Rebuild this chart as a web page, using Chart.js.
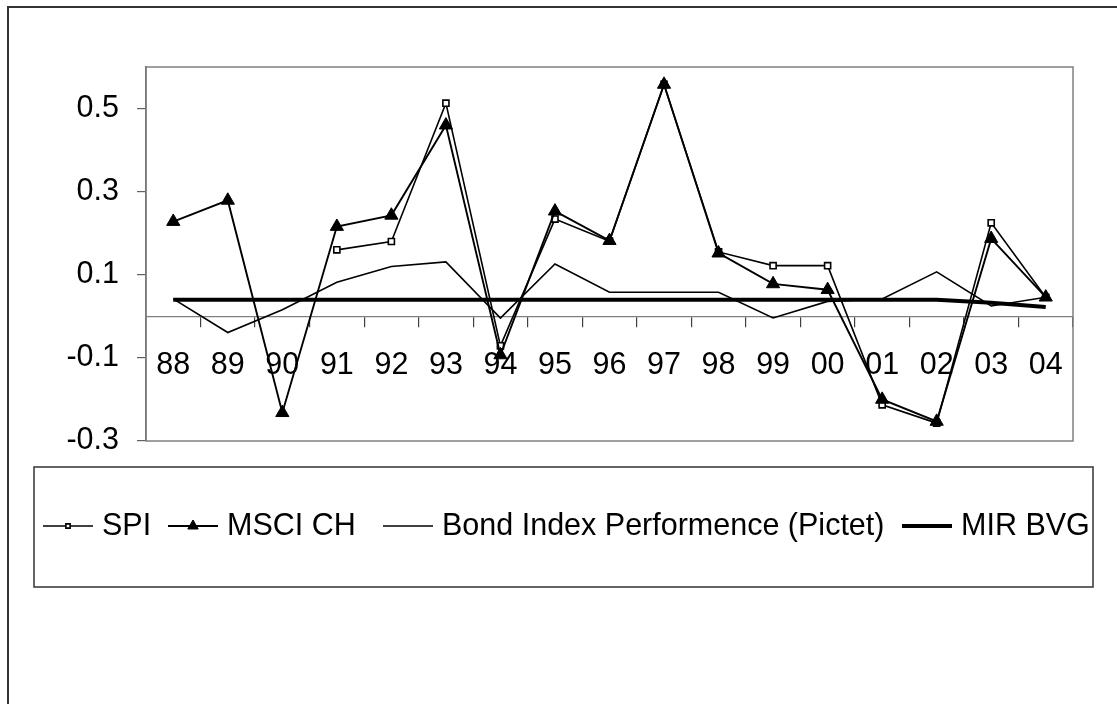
<!DOCTYPE html>
<html>
<head>
<meta charset="utf-8">
<script src="https://cdn.jsdelivr.net/npm/chart.js@4.4.1/dist/chart.umd.min.js"></script>
<style>
  html, body { margin: 0; padding: 0; background: #ffffff; }
  #wrap { width: 1117px; height: 704px; position: relative; }
</style>
</head>
<body>
<div id="wrap"><canvas id="chart" width="1117" height="704"></canvas></div>
<script>
// Years (two-digit labels)
const years = ['88', '89', '90', '91', '92', '93', '94', '95', '96', '97', '98', '99', '00', '01', '02', '03', '04'];

// Annual returns
const spi = [null, null, null, 0.160, 0.180, 0.513, -0.071, 0.234, 0.181, 0.558, 0.155, 0.122, 0.122, -0.213, -0.257, 0.225, 0.046];
const msciCh = [0.228, 0.279, -0.232, 0.216, 0.243, 0.460, -0.093, 0.253, 0.182, 0.558, 0.152, 0.078, 0.064, -0.200, -0.253, 0.187, 0.046];
const bondIndex = [0.042, -0.039, 0.016, 0.082, 0.120, 0.131, -0.004, 0.126, 0.058, 0.058, 0.058, -0.004, 0.036, 0.042, 0.107, 0.025, 0.046];
// BVG minimum interest rate
const mirBvg = [0.04, 0.04, 0.04, 0.04, 0.04, 0.04, 0.04, 0.04, 0.04, 0.04, 0.04, 0.04, 0.04, 0.04, 0.04, 0.0325, 0.0225];

// Value axis
const yMin = -0.3;
const yMax = 0.6;
const yTicks = [-0.3, -0.1, 0.1, 0.3, 0.5];

const FONT = "'Liberation Sans', Arial, sans-serif";

// Frame, plot border and legend box
const framePlugin = {
  id: 'frame',
  beforeDraw(chart) {
    const ctx = chart.ctx;
    ctx.save();
    ctx.fillStyle = '#ffffff';
    ctx.fillRect(0, 0, chart.width, chart.height);
    // outer chart frame
    ctx.strokeStyle = '#333333';
    ctx.lineWidth = 2;
    ctx.strokeRect(8, 7, chart.width + 20, chart.height + 20);
    ctx.restore();
  },
  beforeDatasetsDraw(chart) {
    const { ctx, chartArea: a } = chart;
    ctx.save();
    ctx.strokeStyle = '#808080';
    ctx.lineWidth = 1.5;
    ctx.strokeRect(a.left, a.top, a.right - a.left, a.bottom - a.top);
    ctx.restore();
  }
};

// Legend: line sample with marker, then the series name
const legendPlugin = {
  id: 'lineLegend',
  afterDraw(chart) {
    const ctx = chart.ctx;
    const box = { left: 34, top: 467, right: 1093, bottom: 587 };
    const itemX = [43, 168, 383, 902];
    const sampleLen = 50;
    const textGap = 9;
    const cy = 526;
    ctx.save();
    ctx.strokeStyle = '#333333';
    ctx.lineWidth = 1.5;
    ctx.strokeRect(box.left, box.top, box.right - box.left, box.bottom - box.top);
    chart.data.datasets.forEach((ds, i) => {
      const x0 = itemX[i];
      ctx.strokeStyle = ds.borderColor;
      ctx.lineWidth = ds.borderWidth;
      ctx.beginPath();
      ctx.moveTo(x0, cy);
      ctx.lineTo(x0 + sampleLen, cy);
      ctx.stroke();
      if (ds.pointRadius > 0) {
        ctx.fillStyle = ds.pointBackgroundColor;
        ctx.strokeStyle = ds.pointBorderColor;
        ctx.lineWidth = ds.pointBorderWidth;
        Chart.helpers.drawPoint(ctx, {
          pointStyle: ds.pointStyle,
          radius: ds.legendRadius,
          borderWidth: ds.pointBorderWidth,
          rotation: 0
        }, x0 + sampleLen / 2, cy);
      }
      ctx.fillStyle = '#000000';
      ctx.font = '30.5px ' + FONT;
      ctx.textAlign = 'left';
      ctx.textBaseline = 'middle';
      ctx.fillText(ds.label, x0 + sampleLen + textGap, cy + 1);
    });
    ctx.restore();
  }
};

new Chart(document.getElementById('chart'), {
  type: 'line',
  data: {
    labels: years,
    datasets: [
      {
        label: 'SPI',
        data: spi,
        borderColor: '#000000',
        borderWidth: 1.6,
        pointStyle: 'rect',
        pointRadius: 4.3,
        pointBackgroundColor: '#ffffff',
        pointBorderColor: '#000000',
        pointBorderWidth: 1.6,
        legendRadius: 3,
        tension: 0,
        order: 3
      },
      {
        label: 'MSCI CH',
        data: msciCh,
        borderColor: '#000000',
        borderWidth: 1.9,
        pointStyle: 'triangle',
        pointRadius: 7.6,
        pointBackgroundColor: '#000000',
        pointBorderColor: '#000000',
        pointBorderWidth: 1,
        legendRadius: 6,
        tension: 0,
        order: 2
      },
      {
        label: 'Bond Index Performence (Pictet)',
        data: bondIndex,
        borderColor: '#000000',
        borderWidth: 1.6,
        pointRadius: 0,
        tension: 0,
        order: 1
      },
      {
        label: 'MIR BVG',
        data: mirBvg,
        borderColor: '#000000',
        borderWidth: 4,
        pointRadius: 0,
        tension: 0,
        order: 0
      }
    ]
  },
  options: {
    responsive: false,
    animation: false,
    events: [],
    layout: { padding: { left: 0, top: 67, right: 44, bottom: 263 } },
    plugins: {
      legend: { display: false },
      tooltip: { enabled: false },
      title: { display: false }
    },
    scales: {
      x: {
        type: 'category',
        position: { y: 0 },
        offset: true,
        grid: {
          offset: true,
          drawOnChartArea: false,
          drawTicks: true,
          tickLength: 10,
          color: '#404040',
          lineWidth: 1.2
        },
        border: { display: true, color: '#808080', width: 1.2 },
        ticks: {
          color: '#000000',
          font: { family: FONT, size: 30.5 },
          padding: 21,
          maxRotation: 0,
          autoSkip: false
        }
      },
      y: {
        type: 'linear',
        position: 'left',
        min: yMin,
        max: yMax,
        afterBuildTicks(scale) {
          scale.ticks = yTicks.map(v => ({ value: v }));
        },
        afterFit(scale) {
          scale.width = 146;
        },
        grid: {
          drawOnChartArea: false,
          drawTicks: true,
          tickLength: 9,
          color: '#606060',
          lineWidth: 1.2
        },
        border: { display: true, color: '#606060', width: 1.5 },
        ticks: {
          color: '#000000',
          font: { family: FONT, size: 30.5 },
          padding: 18,
          callback: v => Number(v).toFixed(1)
        }
      }
    }
  },
  plugins: [framePlugin, legendPlugin]
});
</script>
</body>
</html>
